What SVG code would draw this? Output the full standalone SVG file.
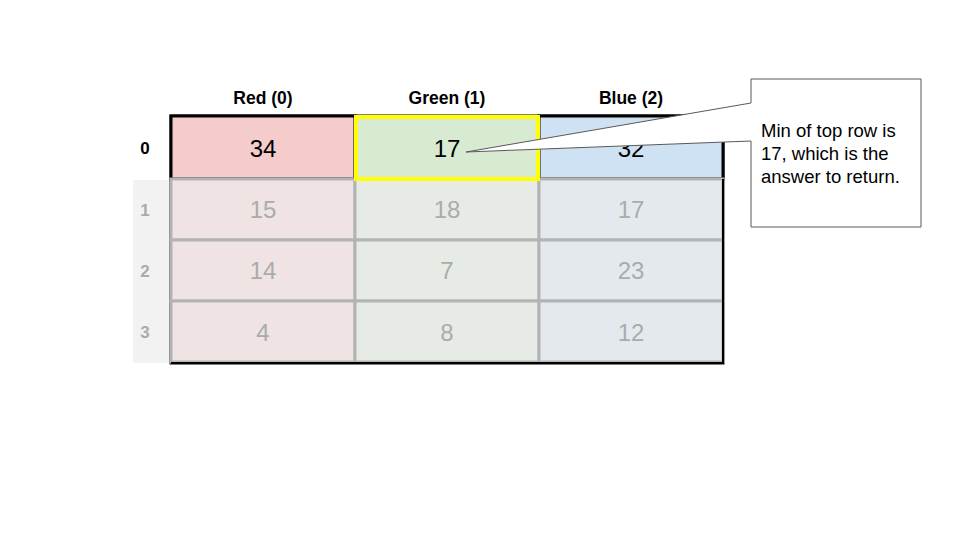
<svg xmlns="http://www.w3.org/2000/svg" width="960" height="540" viewBox="0 0 960 540">
<style>
text{font-family:"Liberation Sans",Arial,sans-serif}
.hdr{font-size:17.5px;font-weight:bold;text-anchor:middle;fill:#000}
.num{font-size:24px;text-anchor:middle;fill:#000}
.numf{font-size:24px;text-anchor:middle;fill:#ABABAB}
.rl{font-size:17px;font-weight:bold;text-anchor:middle}
.fc{stroke:#B3B3B3;stroke-width:3}
.note{font-size:18.5px;fill:#000}
</style>
<rect width="960" height="540" fill="#fff"/>
<g id="headers">
<text class="hdr" x="263" y="104">Red (0)</text>
<text class="hdr" x="447" y="104">Green (1)</text>
<text class="hdr" x="631" y="104">Blue (2)</text>
</g>
<g id="row-labels">
<rect x="133" y="180" width="38" height="183" fill="#F2F2F2"/>
<text class="rl" x="145" y="154" fill="#000">0</text>
<text class="rl" x="145" y="216" fill="#ABABAB">1</text>
<text class="rl" x="145" y="277" fill="#ABABAB">2</text>
<text class="rl" x="145" y="338" fill="#ABABAB">3</text>
</g>
<g id="table">
<rect x="171" y="116" width="552" height="247" fill="none" stroke="#000" stroke-width="3"/>
<g id="row0">
<rect x="171" y="116" width="184" height="63" fill="#F4CCCC" stroke="#000" stroke-width="3"/>
<rect x="539" y="116" width="184" height="63" fill="#CFE2F3" stroke="#000" stroke-width="3"/>
<rect x="355" y="116" width="184" height="63" fill="#D9EAD3"/>
<text class="num" x="263" y="157">34</text>
<text class="num" x="447" y="157">17</text>
<text class="num" x="631" y="157">32</text>
</g>
<g id="row1">
<rect class="fc" x="171" y="179" width="184" height="61" fill="#EFE3E3"/>
<rect class="fc" x="355" y="179" width="184" height="61" fill="#E6EBE6"/>
<rect class="fc" x="539" y="179" width="184" height="61" fill="#E4E9EE"/>
<text class="numf" x="263" y="218">15</text>
<text class="numf" x="447" y="218">18</text>
<text class="numf" x="631" y="218">17</text>
</g>
<g id="row2">
<rect class="fc" x="171" y="240" width="184" height="61" fill="#EFE3E3"/>
<rect class="fc" x="355" y="240" width="184" height="61" fill="#E6EBE6"/>
<rect class="fc" x="539" y="240" width="184" height="61" fill="#E4E9EE"/>
<text class="numf" x="263" y="279">14</text>
<text class="numf" x="447" y="279">7</text>
<text class="numf" x="631" y="279">23</text>
</g>
<g id="row3">
<rect class="fc" x="171" y="301" width="184" height="61" fill="#EFE3E3"/>
<rect class="fc" x="355" y="301" width="184" height="61" fill="#E6EBE6"/>
<rect class="fc" x="539" y="301" width="184" height="61" fill="#E4E9EE"/>
<text class="numf" x="263" y="341">4</text>
<text class="numf" x="447" y="341">8</text>
<text class="numf" x="631" y="341">12</text>
</g>
<path d="M171,363 H723 V179" fill="none" stroke="#000" stroke-width="2"/>
<rect id="highlight" x="356" y="117" width="182" height="62" fill="none" stroke="#FFFF00" stroke-width="4"/>
</g>
<g id="callout">
<path d="M751,79 H921 V227 H751 V141 L466,152 L751,103 Z" fill="#fff" stroke="#595959" stroke-width="1"/>
<text class="note" x="761" y="137">Min of top row is</text>
<text class="note" x="761" y="160">17, which is the</text>
<text class="note" x="761" y="183">answer to return.</text>
</g>
</svg>
